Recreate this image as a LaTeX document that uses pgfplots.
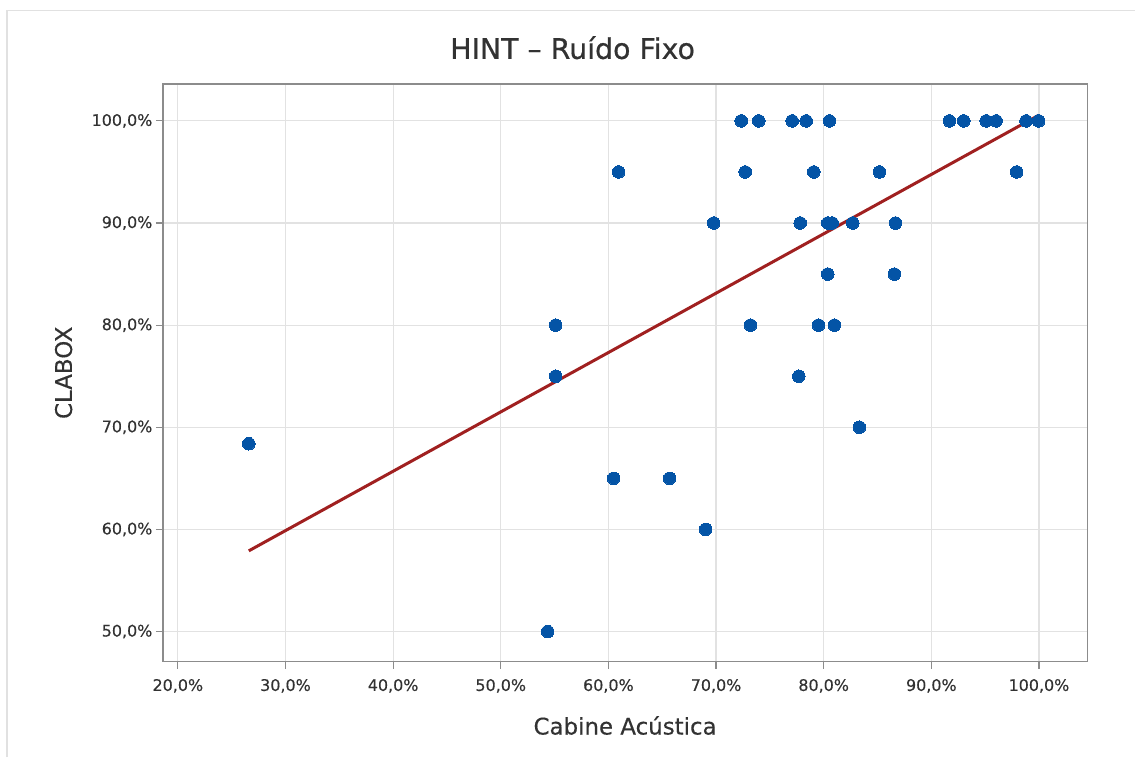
\documentclass[border=0pt]{standalone}
\usepackage{fontspec}
\setmainfont{DejaVu Sans}[FakeBold=0.35]
\newfontfamily\titlefont{DejaVu Sans}[FakeBold=0.6]
\usepackage{pgfplots}
\pgfplotsset{compat=1.18}
\definecolor{ptblue}{RGB}{4,84,166}
\definecolor{fitred}{RGB}{160,32,32}
\definecolor{txt}{RGB}{50,50,50}
\definecolor{gridc}{RGB}{226,226,226}
\definecolor{axc}{RGB}{140,140,140}
\definecolor{framec}{RGB}{225,225,225}
\begin{document}
\begin{tikzpicture}[x=1bp,y=1bp]
\path (0,0) rectangle (1136,758);
\draw[framec, line width=1.5bp] (7,0) -- (7,747.5) -- (1136,747.5);
\begin{axis}[
  at={(163bp,96bp)}, anchor=south west,
  scale only axis, width=925bp, height=578bp,
  xmin=18.61, xmax=104.49, ymin=47.06, ymax=103.62,
  xtick={20,30,...,100}, ytick={50,60,...,100},
  grid=major, major grid style={gridc, line width=1.2bp},
  axis line style={axc, line width=1.3bp},
  tick pos=left, tick align=outside, major tick length=7bp,
  tick style={axc, line width=1.2bp},
  /pgf/number format/.cd, assume math mode=true, use comma, fixed, fixed zerofill, precision=1, /pgfplots/.cd,
  xticklabel={\pgfmathprintnumber{\tick}\%},
  yticklabel={\pgfmathprintnumber{\tick}\%},
  ticklabel style={font=\fontsize{16}{18}\selectfont, text=txt},
  xticklabel style={yshift=-7bp},
  title={HINT – Ruído Fixo},
  title style={at={(axis description cs:0.4432,1.033)}, anchor=base, font=\titlefont\fontsize{28.5}{32}\selectfont, text=txt},
  xlabel={Cabine Acústica},
  xlabel style={at={(axis description cs:0.5,-0.1263)}, anchor=base, font=\fontsize{23}{26}\selectfont, text=txt},
  ylabel={CLABOX},
  ylabel style={at={(axis description cs:-0.0984,0.5)}, anchor=base, font=\fontsize{23}{26}\selectfont, text=txt},
]
\addplot[fitred, line width=3bp] coordinates {(26.59,57.9) (99.97,100.55)};
\addplot[only marks, mark=*, mark size=6.3bp, mark options={fill=ptblue, draw=ptblue, line width=0pt}] coordinates {
(26.59,68.39) (54.35,50) (55.10,80) (55.10,75) (60.48,65) (60.95,95)
(65.68,65) (69.03,60) (69.78,90) (72.34,100) (72.71,95) (73.20,80)
(73.97,100) (77.07,100) (77.69,75) (77.82,90) (78.37,100) (79.08,95)
(79.52,80) (80.38,85) (80.38,90) (80.79,90) (80.54,100) (81.00,80)
(82.70,90) (83.32,70) (85.18,95) (86.57,85) (86.67,90) (91.68,100)
(93.01,100) (95.09,100) (96.02,100) (97.93,95) (98.80,100) (99.97,100)
};
\end{axis}
\end{tikzpicture}
\end{document}
